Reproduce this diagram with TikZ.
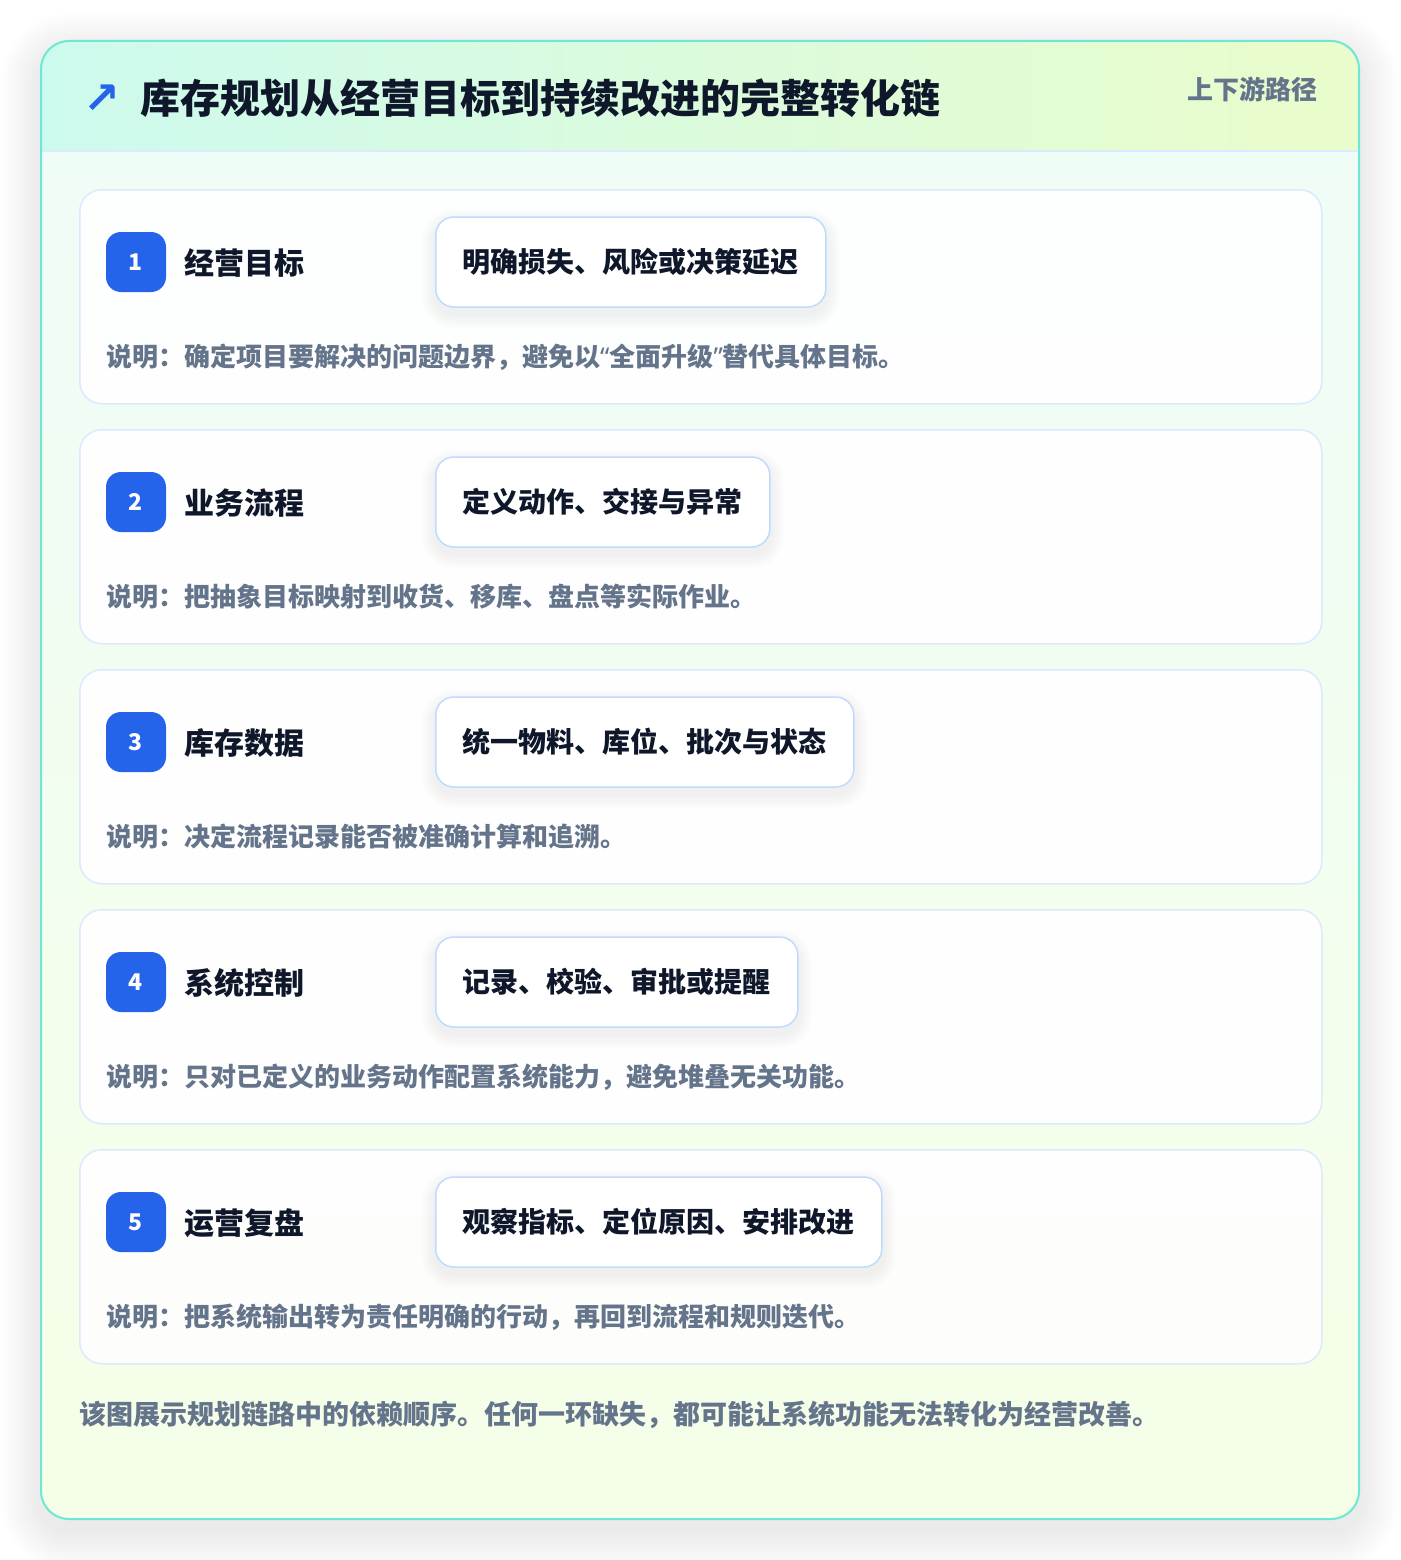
\documentclass[tikz,border=0pt]{standalone}
\usepackage{fontspec}
\setmainfont{Noto Sans CJK SC}
\newfontfamily\symfont{DejaVu Sans}
\newfontfamily\latinfont{Noto Sans}
\definecolor{cardborder}{HTML}{6EE7D4}
\definecolor{hdrL}{HTML}{CDFAEE}
\definecolor{hdrR}{HTML}{EAFCCB}
\definecolor{bodyT}{HTML}{EFFDF8}
\definecolor{bodyB}{HTML}{F5FEE7}
\definecolor{stepborder}{HTML}{DBEAFE}
\definecolor{pillborder}{HTML}{BFDBFE}
\definecolor{badgeblue}{HTML}{2563EB}
\definecolor{ink}{HTML}{0F172A}
\definecolor{muted}{HTML}{64748B}
\pgfdeclarelayer{L0}\pgfdeclarelayer{L1}\pgfdeclarelayer{L2}
\pgfsetlayers{L0,L1,L2,main}
\tikzset{
  stepcard/.style={draw=stepborder, line width=1.5pt, fill=white, fill opacity=0.9, rounded corners=22pt,
    minimum width=1242pt, minimum height=214pt, anchor=north west, inner sep=0pt},
  badgebox/.style={fill=badgeblue, rounded corners=15pt, minimum size=60pt, inner sep=0pt, text=white,
    font=\fontsize{23}{26}\selectfont\bfseries},
  steptitle/.style={anchor=west, inner sep=0pt, text=ink, font=\fontsize{30}{34}\selectfont\bfseries},
  pillbox/.style={anchor=west, draw=pillborder, line width=1.5pt, fill=white, rounded corners=18pt,
    minimum height=90pt, inner xsep=27pt, inner ysep=0pt, text=ink, font=\fontsize{28}{32}\selectfont\bfseries},
  desctext/.style={anchor=west, inner sep=0pt, text=muted, font=\fontsize{26}{30}\selectfont\bfseries},
}
\begin{document}
\begin{tikzpicture}[x=1pt,y=-1pt]
\useasboundingbox (0,0) rectangle (1400,1560);
% outer card with shadow
\begin{pgfonlayer}{L0}
\fill[white] (0,0) rectangle (1400,1560);
\foreach \k in {2,4,...,40}{
  \fill[black, opacity=0.0045, rounded corners={(28+\k)*1pt}] (41-\k,41-\k+12) rectangle (1359+\k,1519+\k+12);
}
\shade[top color=bodyT, bottom color=bodyB, rounded corners=28pt] (41,41) rectangle (1359,1519);
\begin{scope}
  \clip[rounded corners=28pt] (41,41) rectangle (1359,1519);
  \shade[left color=hdrL, right color=hdrR] (41,41) rectangle (1359,151);
  \draw[stepborder, line width=1.5pt] (41,151) -- (1359,151);
\end{scope}
\draw[cardborder, line width=2pt, rounded corners=28pt] (41,41) rectangle (1359,1519);
\end{pgfonlayer}
% header
\node[inner sep=0pt, text=badgeblue, font=\symfont\bfseries\fontsize{44}{46}\selectfont] (hicon) at (102,99) {↗};
\node[anchor=west, inner sep=0pt, text=ink, font=\fontsize{40}{46}\selectfont\bfseries] (htitle) at (140,98) {库存规划从经营目标到持续改进的完整转化链};
\node[anchor=east, inner sep=0pt, text=muted, font=\fontsize{26}{30}\selectfont\bfseries] (htag) at (1318,89) {上下游路径};
% steps
\foreach \i/\ti/\pi/\de in {
  1/经营目标/明确损失、风险或决策延迟/确定项目要解决的问题边界，避免以{\latinfont “}全面升级{\latinfont ”}替代具体目标。,
  2/业务流程/定义动作、交接与异常/把抽象目标映射到收货、移库、盘点等实际作业。,
  3/库存数据/统一物料、库位、批次与状态/决定流程记录能否被准确计算和追溯。,
  4/系统控制/记录、校验、审批或提醒/只对已定义的业务动作配置系统能力，避免堆叠无关功能。,
  5/运营复盘/观察指标、定位原因、安排改进/把系统输出转为责任明确的行动，再回到流程和规则迭代。}{
  \pgfmathsetmacro{\t}{189+240*(\i-1)}
  \begin{pgfonlayer}{L1}
    \node[stepcard] (card\i) at (79,\t) {};
  \end{pgfonlayer}
  \node[badgebox] (badge\i) at (136,\t+73) {\i};
  \node[steptitle] (title\i) at (184,\t+74) {\ti};
  \node[pillbox] (pill\i) at (435,\t+73) {\pi};
  \begin{pgfonlayer}{L2}
    \foreach \k in {1,2,...,14}{
      \fill[black, opacity=0.005, rounded corners={(18+\k)*1pt}]
        ([xshift=-\k pt, yshift={(\k-7)*1pt}]pill\i.north west) rectangle ([xshift=\k pt, yshift={(-7-\k)*1pt}]pill\i.south east);
    }
  \end{pgfonlayer}
  \node[desctext] (desc\i) at (106,\t+168) {说明：\de};
}
\node[desctext, font=\fontsize{27}{30}\selectfont\bfseries] (footer) at (79,1415) {该图展示规划链路中的依赖顺序。任何一环缺失，都可能让系统功能无法转化为经营改善。};
\end{tikzpicture}
\end{document}
